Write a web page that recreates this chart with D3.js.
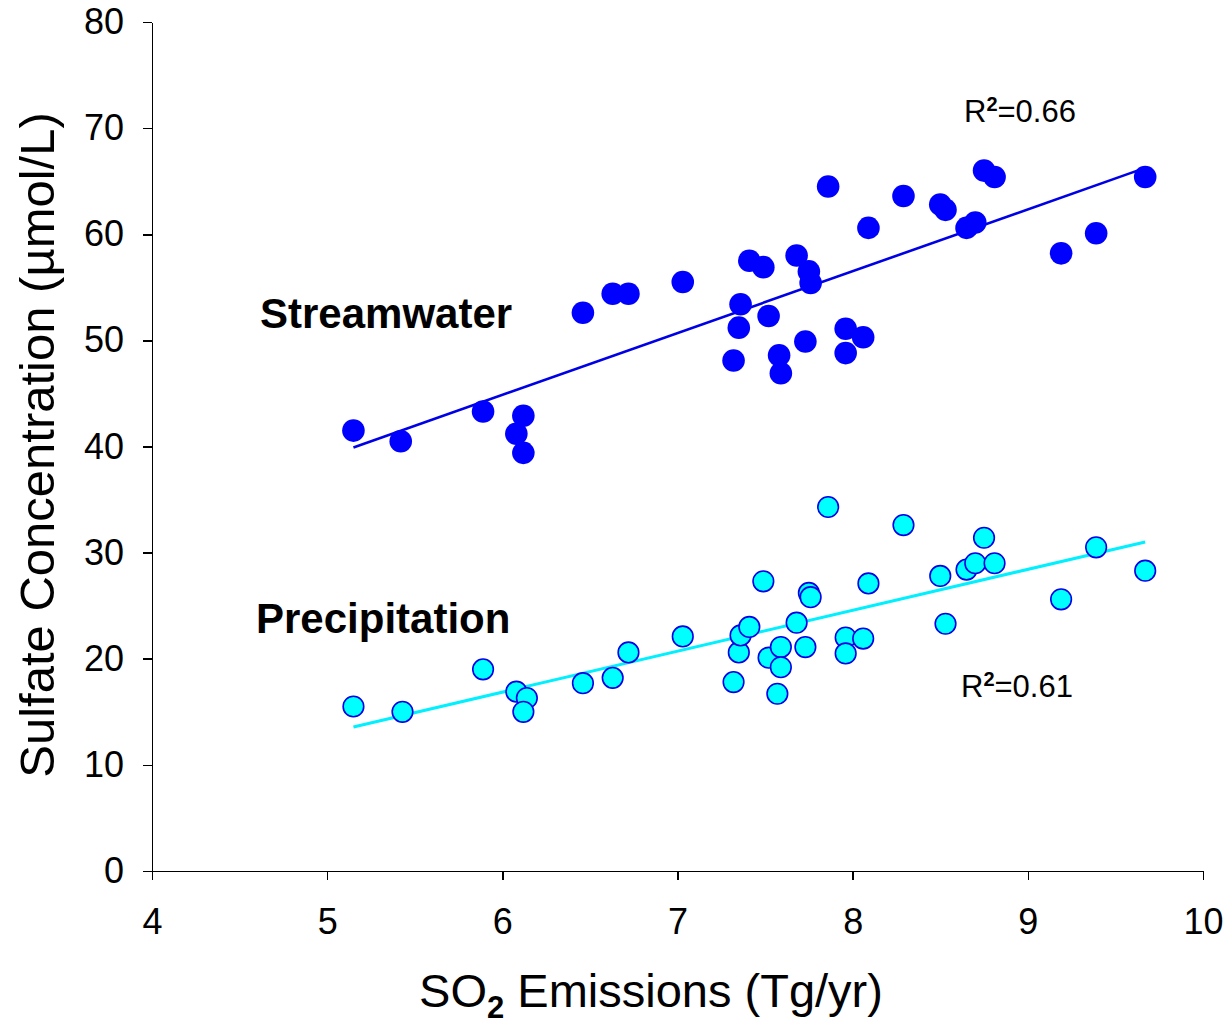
<!DOCTYPE html>
<meta charset="utf-8">
<style>
    body {
        margin: 0;
        background: white;
    }

    text {
        font-family: "Liberation Sans", Arial, sans-serif;
        fill: black;
    }

    .axis path,
    .axis line {
        stroke: black;
        stroke-width: 1.6px;
        shape-rendering: crispEdges;
    }

    .axis text {
        font-size: 36px;
    }

    .axisTitle {
        font-size: 47px;
        text-anchor: middle;
    }

    .seriesLabel {
        font-size: 42px;
        font-weight: bold;
    }

    .rLabel {
        font-size: 31px;
    }

    .streamDot {
        fill: #0000ff;
    }

    .precipDot {
        fill: #00ffff;
        stroke: #0000e6;
        stroke-width: 1.6px;
    }
</style>
<body>
    <script src="https://d3js.org/d3.v7.min.js"></script>
    <script>

        // SO2 emissions (Tg/yr) and sulfate concentrations (umol/L)
        var streamEmissions = [5.15, 5.42, 5.89, 6.08, 6.12, 6.12, 6.46, 6.63, 6.72, 7.03, 7.32, 7.35, 7.36, 7.41, 7.49, 7.52, 7.58, 7.59, 7.68, 7.73, 7.75, 7.76, 7.86, 7.96, 7.96, 8.06, 8.09, 8.29, 8.50, 8.53, 8.65, 8.70, 8.75, 8.81, 9.19, 9.39, 9.67];
        var streamSulfate = [41.5, 40.5, 43.3, 41.2, 42.9, 39.4, 52.6, 54.4, 54.4, 55.5, 48.1, 51.2, 53.4, 57.5, 56.9, 52.3, 48.6, 46.9, 58.0, 49.9, 56.5, 55.4, 64.5, 48.8, 51.1, 50.3, 60.6, 63.6, 62.8, 62.3, 60.6, 61.1, 66.0, 65.4, 58.2, 60.1, 65.4];

        var precipEmissions = [5.15, 5.43, 5.89, 6.08, 6.14, 6.12, 6.46, 6.63, 6.72, 7.03, 7.32, 7.35, 7.36, 7.41, 7.49, 7.52, 7.57, 7.59, 7.59, 7.68, 7.73, 7.75, 7.76, 7.86, 7.96, 7.96, 8.06, 8.09, 8.29, 8.50, 8.53, 8.65, 8.70, 8.75, 8.81, 9.19, 9.39, 9.67];
        var precipSulfate = [15.5, 15.0, 19.0, 16.9, 16.3, 15.0, 17.7, 18.2, 20.6, 22.1, 17.8, 20.6, 22.2, 23.0, 27.3, 20.1, 16.7, 21.1, 19.2, 23.4, 21.1, 26.2, 25.8, 34.3, 22.0, 20.5, 21.9, 27.1, 32.6, 27.8, 23.3, 28.4, 29.0, 31.4, 29.0, 25.6, 30.5, 28.3];

        var xTicks = [4, 5, 6, 7, 8, 9, 10];
        var yTicks = [0, 10, 20, 30, 40, 50, 60, 70, 80];

        // set the dimensions and margins of the graph
        var margin = {
            top: 22,
            right: 27,
            bottom: 153,
            left: 152
        }
          , width = 1230 - margin.left - margin.right
          , height = 1024 - margin.top - margin.bottom;

        // set the ranges
        var x = d3.scaleLinear().domain([4, 10]).range([0, width]);
        var y = d3.scaleLinear().domain([0, 80]).range([height, 0]);

        // least squares fit for a series
        function fit(xs, ys) {
            var mx = d3.mean(xs), my = d3.mean(ys);
            var sxy = d3.sum(xs, function(v, i) { return (v - mx) * (ys[i] - my); });
            var sxx = d3.sum(xs, function(v) { return (v - mx) * (v - mx); });
            var slope = sxy / sxx;
            var x0 = d3.min(xs), x1 = d3.max(xs);
            return [[x0, my + slope * (x0 - mx)], [x1, my + slope * (x1 - mx)]];
        }

        var valueline = d3.line().x(function(d) {
            return x(d[0]);
        }).y(function(d) {
            return y(d[1]);
        });

        var svg = d3.select("body").append("svg").attr("width", 1230).attr("height", 1024).append("g").attr("transform", "translate(" + margin.left + "," + margin.top + ")");

        // regression lines
        svg.append("path").datum(fit(streamEmissions, streamSulfate)).attr("d", valueline).attr("fill", "none").attr("stroke", "#0000e6").attr("stroke-width", 2.6);
        svg.append("path").datum(fit(precipEmissions, precipSulfate)).attr("d", valueline).attr("fill", "none").attr("stroke", "#00f0ff").attr("stroke-width", 3);

        // the dots
        svg.selectAll(".streamDot").data(streamEmissions).enter().append("circle").attr("class", "streamDot").attr("r", 11.3).attr("cx", function(d) {
            return x(d);
        }).attr("cy", function(d, i) {
            return y(streamSulfate[i]);
        });

        svg.selectAll(".precipDot").data(precipEmissions).enter().append("circle").attr("class", "precipDot").attr("r", 10.3).attr("cx", function(d) {
            return x(d);
        }).attr("cy", function(d, i) {
            return y(precipSulfate[i]);
        });

        // add the X Axis
        svg.append("g").attr("class", "axis").attr("transform", "translate(0," + height + ")").call(d3.axisBottom(x).tickValues(xTicks).tickFormat(d3.format("d")).tickSize(9).tickSizeOuter(0).tickPadding(28));

        // add the Y Axis
        svg.append("g").attr("class", "axis").call(d3.axisLeft(y).tickValues(yTicks).tickFormat(d3.format("d")).tickSize(9).tickSizeOuter(0).tickPadding(19));

        // axis titles
        var xTitle = svg.append("text").attr("class", "axisTitle").attr("x", 651 - margin.left).attr("y", 1007 - margin.top);
        xTitle.append("tspan").text("SO");
        xTitle.append("tspan").text("2").attr("font-size", "31px").attr("font-weight", "bold").attr("dy", 11);
        xTitle.append("tspan").text(" Emissions (Tg/yr)").attr("dy", -11);

        svg.append("text").attr("class", "axisTitle").style("font-size", "49px").attr("transform", "translate(" + (54 - margin.left) + "," + (445 - margin.top) + ") rotate(-90)").text("Sulfate Concentration (µmol/L)");

        // series labels
        svg.append("text").attr("class", "seriesLabel").attr("x", 260 - margin.left).attr("y", 328 - margin.top).text("Streamwater");
        svg.append("text").attr("class", "seriesLabel").attr("x", 256 - margin.left).attr("y", 633 - margin.top).text("Precipitation");

        // R squared labels
        function rLabel(px, py, value) {
            var t = svg.append("text").attr("class", "rLabel").attr("x", px - margin.left).attr("y", py - margin.top);
            t.append("tspan").text("R");
            t.append("tspan").text("2").attr("font-size", "20px").attr("font-weight", "bold").attr("dy", -11);
            t.append("tspan").text("=" + value).attr("dy", 11);
        }
        rLabel(964, 122, "0.66");
        rLabel(961, 697, "0.61");

    </script>
</body>
